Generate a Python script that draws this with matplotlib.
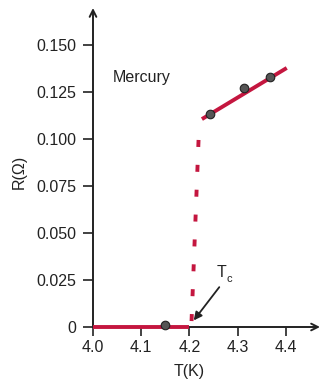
import matplotlib
matplotlib.use("Agg")
import matplotlib.pyplot as plt

plt.rcParams['font.family'] = ['Liberation Sans', 'DejaVu Sans']

# Measured resistance of mercury near the superconducting transition
temps_normal = [4.243, 4.313, 4.367]
res_normal = [0.1133, 0.1271, 0.1330]
temps_super = [4.15]
res_super = [0.001]

# Fitted normal-state line and the superconducting (zero) branch
fit_T = [4.226, 4.402]
fit_R = [0.1106, 0.1378]
zero_T = [4.0, 4.2]
zero_R = [0.0, 0.0]
# Abrupt drop at the critical temperature
drop_T = [4.219, 4.204]
drop_R = [0.0995, 0.0]
Tc = 4.204

xticks = [4.0, 4.1, 4.2, 4.3, 4.4]
xticklabels = ['4.0', '4.1', '4.2', '4.3', '4.4']
yticks = [0, 0.025, 0.050, 0.075, 0.100, 0.125, 0.150]
yticklabels = ['0', '0.025', '0.050', '0.075', '0.100', '0.125', '0.150']

red = '#C4163F'
ink = '#222222'
fs = 11.5

fig = plt.figure(figsize=(3.21, 3.81), dpi=100)
ax = fig.add_axes([93/321, 1-327/381, (320-93)/321, (327-8)/381])
ax.set_xlim(4.0, 4.471)
ax.set_ylim(0, 0.1697)

for s in ax.spines.values():
    s.set_visible(False)

# Axes drawn as arrows
ax.annotate('', xy=(1.0, 0), xytext=(0, 0), xycoords='axes fraction',
            arrowprops=dict(arrowstyle='->', lw=1.4, color=ink,
                            mutation_scale=12, shrinkA=0, shrinkB=0))
ax.annotate('', xy=(0, 1.0), xytext=(0, 0), xycoords='axes fraction',
            arrowprops=dict(arrowstyle='->', lw=1.4, color=ink,
                            mutation_scale=12, shrinkA=0, shrinkB=0))

ax.set_xticks(xticks)
ax.set_xticklabels(xticklabels)
ax.set_yticks(yticks)
ax.set_yticklabels(yticklabels)
ax.tick_params(axis='y', direction='out', length=7.5, width=1.2,
               color=ink, labelsize=fs, labelcolor=ink, pad=4.5)
ax.tick_params(axis='x', direction='out', length=6.5, width=1.2,
               color=ink, labelsize=fs, labelcolor=ink, pad=2.5)

ax.plot(zero_T, zero_R, color=red, lw=2.8, solid_capstyle='butt', clip_on=False, zorder=3)
ax.plot(fit_T, fit_R, color=red, lw=2.8, solid_capstyle='butt', zorder=3)
ax.plot(drop_T, drop_R, color=red, lw=2.8, dashes=(1.8, 4.6), clip_on=False, zorder=3)

ax.scatter(temps_normal + temps_super, res_normal + res_super, s=38,
           color='#555555', edgecolor=ink, linewidth=0.8, zorder=4, clip_on=False)

ax.text(4.040, 0.1325, 'Mercury', fontsize=fs, color=ink, va='center', ha='left')

ax.text(4.267, 0.0290, 'T', fontsize=fs, color=ink, ha='center', va='center')
ax.text(4.282, 0.0257, 'c', fontsize=8, color=ink, ha='center', va='center')
ax.annotate('', xy=(Tc + 0.005, 0.0035), xytext=(4.262, 0.0212),
            arrowprops=dict(arrowstyle='-|>', lw=1.3, color=ink,
                            mutation_scale=12, shrinkA=0, shrinkB=0))

ax.set_xlabel('T(K)', fontsize=fs, color=ink)
ax.set_ylabel('R(Ω)', fontsize=fs, color=ink)
ax.xaxis.set_label_coords((189-93)/227, -(364-327)/319)
ax.yaxis.set_label_coords(-(93-27)/227, (327-172)/319)

fig.savefig('out.png', dpi=100)
